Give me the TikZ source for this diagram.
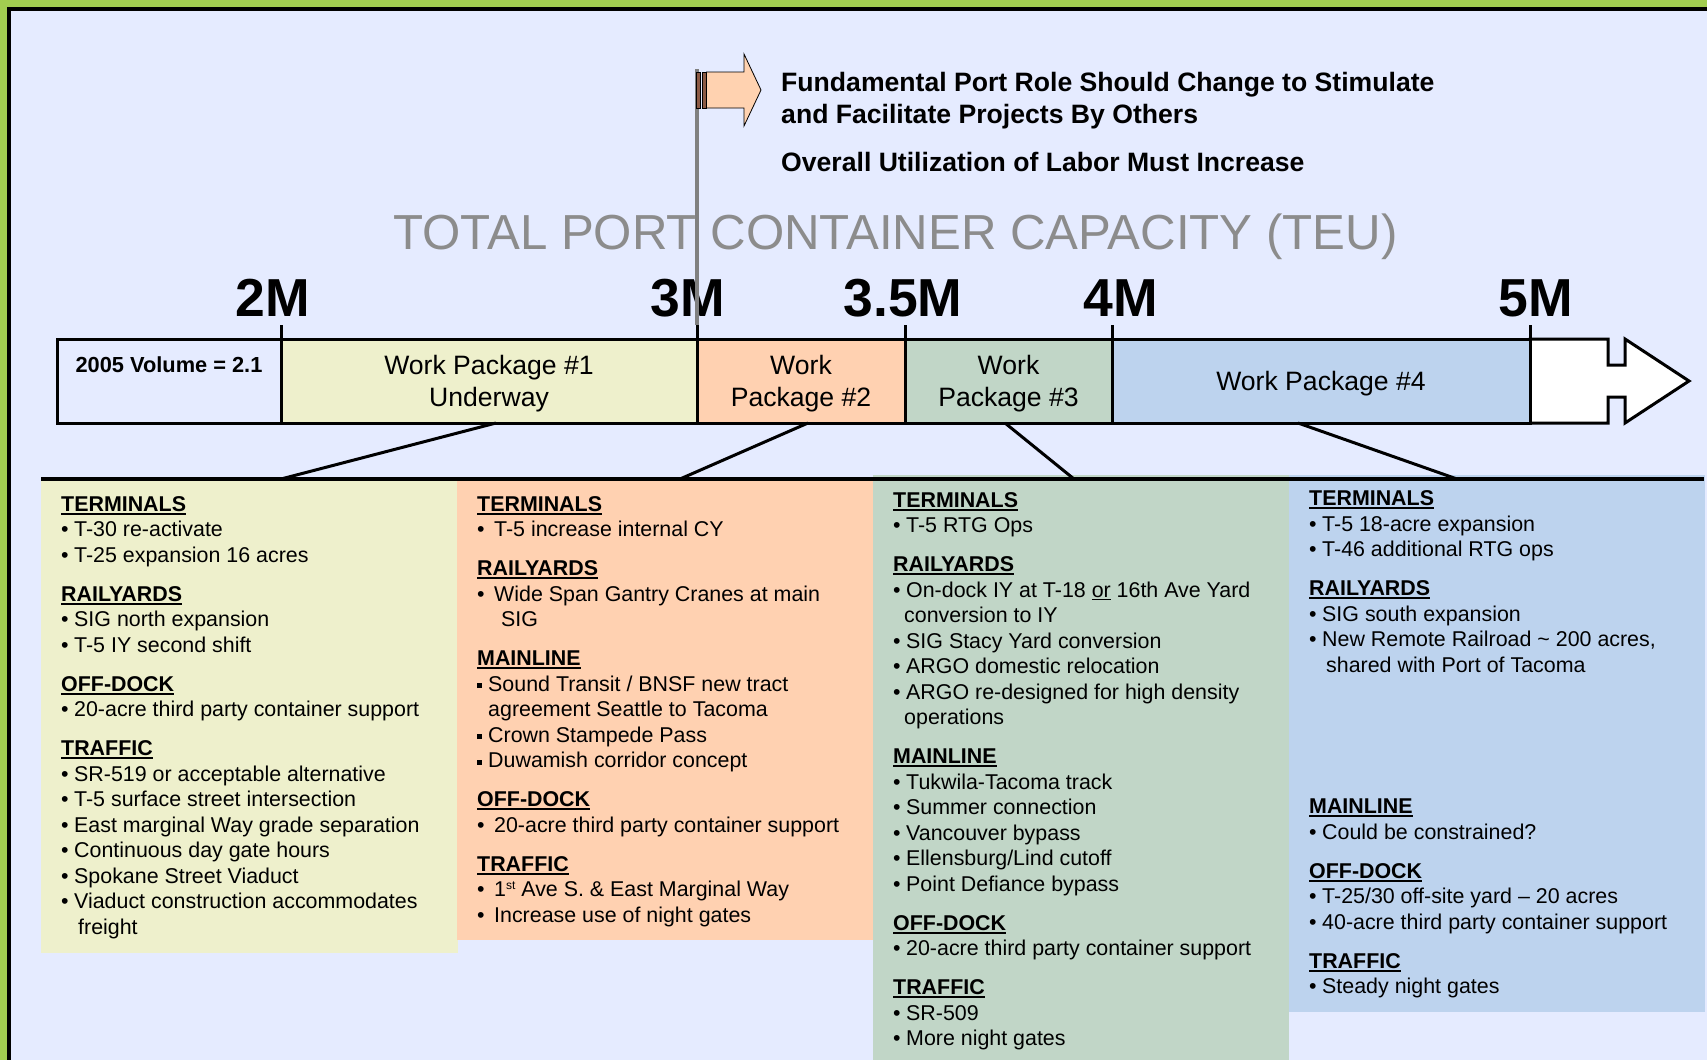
\documentclass[tikz,border=0pt]{standalone}
\usepackage{fontspec}
\setmainfont{Liberation Sans}
\definecolor{framegreen}{HTML}{A2CD50}
\definecolor{bg}{HTML}{E5EBFF}
\definecolor{wpone}{HTML}{EEF0CC}
\definecolor{wptwo}{HTML}{FFD1B1}
\definecolor{wpthree}{HTML}{C1D6C7}
\definecolor{wpfour}{HTML}{BDD3EE}
\definecolor{peach}{HTML}{FFD2B0}
\definecolor{stripe}{HTML}{8C5A44}
\definecolor{titlegray}{HTML}{8C8C8C}
\definecolor{polegray}{HTML}{808080}
% Zeilen in den Kaesten
\newcommand\hd[1]{\hbox{\bfseries\setbox0\hbox{#1}\rlap{\rule[-3.5pt]{\wd0}{2pt}}\box0\relax}}
\newcommand\itm[2][13pt]{\hbox{\makebox[#1][l]{\textbullet}#2}}
\newcommand\sqi[1]{\hbox{\makebox[11pt][l]{\rule[3pt]{5pt}{5pt}}#1}}
\newcommand\cnt[2]{\hbox{\kern#1\relax #2}}
\newcommand\uln[1]{\setbox1\hbox{#1}\rlap{\rule[-3pt]{\wd1}{1.3pt}}\box1\relax}
\newcommand\gap{\vskip13.5pt}
\begin{document}
\begin{tikzpicture}[x=1pt,y=-1pt,
	cell/.style={draw, line width=3pt, inner sep=0pt, outer sep=0pt, minimum height=84pt, align=center, text depth=0pt, font=\fontsize{26.6}{31.5}\selectfont},
	conn/.style={line width=3pt},
	ptext/.style={anchor=base west, inner sep=0pt, font=\fontsize{21.4}{25.5}\selectfont},
	flagtxt/.style={anchor=base west, inner sep=0pt, font=\bfseries\fontsize{26.6}{30}\selectfont},
	mlabel/.style={anchor=base, inner sep=0pt, font=\bfseries\fontsize{53.5}{53.5}\selectfont}]
	\useasboundingbox (0,0) rectangle (1707,1060);
	% Rahmen und Hintergrund
	\fill [framegreen] (0,0) rectangle (1707,1060);
	\fill [black] (7,7) rectangle (1707,1060);
	\fill [bg] (11,11) rectangle (1707,1060);
	% Titel
	\node [anchor=base, inner sep=0pt, text=titlegray, font=\fontsize{49.2}{49.2}\selectfont] (title) at (895.5,249) {TOTAL PORT CONTAINER CAPACITY (TEU)};
	\node [flagtxt] (role1) at (781,91) {Fundamental Port Role Should Change to Stimulate};
	\node [flagtxt] (role2) at (781,123) {and Facilitate Projects By Others};
	\node [flagtxt] (labor) at (781,171) {Overall Utilization of Labor Must Increase};
	% Marken
	\foreach \x/\m [count=\i] in {272.6/2M, 688/3M, 903/3.5M, 1121/4M, 1535.5/5M}
		\node [mlabel] (ml\i) at (\x,316) {\m};
	\foreach \x in {281,697,905,1112,1530}
		\draw [line width=3pt] (\x,325) -- (\x,339);
	% Pfeil rechts
	\draw [line width=3pt, fill=white] (1530,339) -- (1608,339) -- (1608,365) -- (1625,365) -- (1625,339) -- (1689,381) -- (1625,423) -- (1625,397) -- (1608,397) -- (1608,423) -- (1530,423) -- cycle;
	% Balken
	\node [cell, fill=bg, minimum width=224pt] (vol) at (169,381) {};
	\node [anchor=base, inner sep=0pt, font=\bfseries\fontsize{21.8}{24}\selectfont] (voltxt) at (169,372) {2005 Volume = 2.1};
	\node [cell, fill=wpone, minimum width=416pt] (wp1) at (489,381) {Work Package \#1\\Underway};
	\node [cell, fill=wptwo, minimum width=208pt] (wp2) at (801,381) {Work\\Package \#2};
	\node [cell, fill=wpthree, minimum width=207pt] (wp3) at (1008.5,381) {Work\\Package \#3};
	\node [cell, fill=wpfour, minimum width=418pt] (wp4) at (1321,381) {Work Package \#4};
	% Kaesten unten
	\fill [wpone] (41,480) rectangle (458,953);
	\fill [wptwo] (457,480) rectangle (873,940);
	\fill [wpthree] (873,475) rectangle (1289,1060);
	\fill [wpfour] (1289,475) rectangle (1705,1012);
	\draw [line width=4pt] (41,479) -- (1704,479);
	% Verbindungen
	\coordinate (p1) at (281,479);
	\coordinate (p2) at (680,479);
	\coordinate (p3) at (1074,479);
	\coordinate (p4) at (1457,479);
	\draw [conn] ([xshift=7pt]wp1.south) -- (p1);
	\draw [conn] ([xshift=7pt]wp2.south) -- (p2);
	\draw [conn] ([xshift=-3.5pt]wp3.south) -- (p3);
	\draw [conn] ([xshift=-23pt]wp4.south) -- (p4);
	% Fahne
	\draw [polegray, line width=3.5pt] (697,69) -- (697,325);
	\draw [fill=stripe, line width=0.8pt] (696,72) rectangle (700.5,108);
	\draw [fill=stripe, line width=0.8pt] (702.5,72) rectangle (706.5,108);
	\draw [fill=peach, line width=0.8pt] (706.5,72) -- (744,72) -- (744,54) -- (761,90) -- (744,126) -- (744,108) -- (706.5,108) -- cycle;
	% Texte
	\node [ptext] (txt1) at (61,511) {\vtop{%
		\hd{TERMINALS}
		\itm{T-30 re-activate}
		\itm{T-25 expansion 16 acres}\gap
		\hd{RAILYARDS}
		\itm{SIG north expansion}
		\itm{T-5 IY second shift}\gap
		\hd{OFF-DOCK}
		\itm{20-acre third party container support}\gap
		\hd{TRAFFIC}
		\itm{SR-519 or acceptable alternative}
		\itm{T-5 surface street intersection}
		\itm{East marginal Way grade separation}
		\itm{Continuous day gate hours}
		\itm{Spokane Street Viaduct}
		\itm{Viaduct construction accommodates}
		\cnt{17pt}{freight}}};
	\node [ptext] (txt2) at (477,511) {\vtop{%
		\hd{TERMINALS}
		\itm[17pt]{T-5 increase internal CY}\gap
		\hd{RAILYARDS}
		\itm[17pt]{Wide Span Gantry Cranes at main}
		\cnt{24pt}{SIG}\gap
		\hd{MAINLINE}
		\sqi{Sound Transit / BNSF new tract}
		\cnt{11pt}{agreement Seattle to Tacoma}
		\sqi{Crown Stampede Pass}
		\sqi{Duwamish corridor concept}\gap
		\hd{OFF-DOCK}
		\itm[17pt]{20-acre third party container support}\gap
		\hd{TRAFFIC}
		\itm[17pt]{1\raisebox{7pt}{\fontsize{12}{12}\selectfont st} Ave S. \& East Marginal Way}
		\itm[17pt]{Increase use of night gates}}};
	\node [ptext] (txt3) at (893,507) {\vtop{%
		\hd{TERMINALS}
		\itm{T-5 RTG Ops}\gap
		\hd{RAILYARDS}
		\itm{On-dock IY at T-18 \uln{or} 16th Ave Yard}
		\cnt{11pt}{conversion to IY}
		\itm{SIG Stacy Yard conversion}
		\itm{ARGO domestic relocation}
		\itm{ARGO re-designed for high density}
		\cnt{11pt}{operations}\gap
		\hd{MAINLINE}
		\itm{Tukwila-Tacoma track}
		\itm{Summer connection}
		\itm{Vancouver bypass}
		\itm{Ellensburg/Lind cutoff}
		\itm{Point Defiance bypass}\gap
		\hd{OFF-DOCK}
		\itm{20-acre third party container support}\gap
		\hd{TRAFFIC}
		\itm{SR-509}
		\itm{More night gates}}};
	\node [ptext] (txt4) at (1309,505.6) {\vtop{%
		\hd{TERMINALS}
		\itm{T-5 18-acre expansion}
		\itm{T-46 additional RTG ops}\gap
		\hd{RAILYARDS}
		\itm{SIG south expansion}
		\itm{New Remote Railroad \textasciitilde{} 200 acres,}
		\cnt{17pt}{shared with Port of Tacoma}\vskip116pt
		\hd{MAINLINE}
		\itm{Could be constrained?}\gap
		\hd{OFF-DOCK}
		\itm{T-25/30 off-site yard -- 20 acres}
		\itm{40-acre third party container support}\gap
		\hd{TRAFFIC}
		\itm{Steady night gates}}};
\end{tikzpicture}
\end{document}
